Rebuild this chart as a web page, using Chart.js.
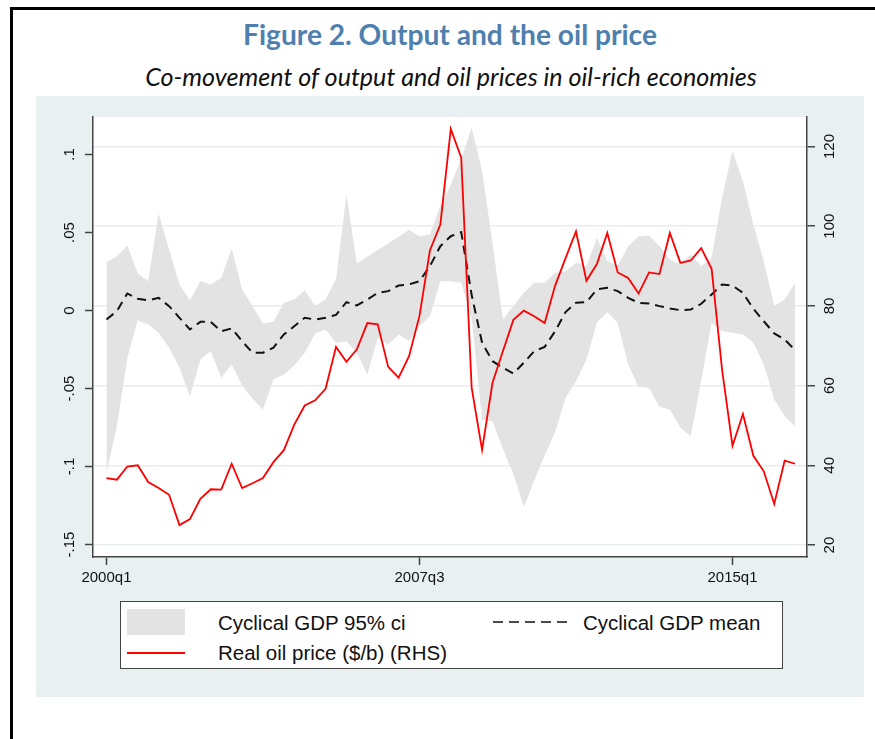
<!DOCTYPE html>
<html>
<head>
<meta charset="utf-8">
<script src="https://cdn.jsdelivr.net/npm/chart.js@4.4.0/dist/chart.umd.min.js"></script>
<style>
  body { margin: 0; width: 875px; height: 739px; background: #fff; position: relative; overflow: hidden; font-family: "Liberation Sans", Arial, sans-serif; }
  .frame-top { position: absolute; left: 10px; top: 7px; right: 0; height: 3px; background: #000; }
  .frame-left { position: absolute; left: 10px; top: 7px; width: 3px; bottom: 0; background: #000; }
  .title { position: absolute; left: 450px; top: 34px; transform: translate(-50%, -50%); white-space: nowrap;
    font-family: Lato, "Open Sans", sans-serif; font-weight: bold; color: #4f7fae; }
  .subtitle { position: absolute; left: 451px; top: 76px; transform: translate(-50%, -50%); white-space: nowrap;
    font-family: Lato, "Open Sans", sans-serif; font-style: italic; color: #111; }
  .panel { position: absolute; left: 36px; top: 96px; width: 828px; height: 601px; background: #e8f0f2; }
  .legend { position: absolute; left: 120px; top: 601px; width: 661px; height: 66px; background: #fff; border: 1px solid #444; }
  .legend .txt { position: absolute; font-size: 20.5px; color: #111; transform: translateY(-50%); white-space: nowrap; }
  .sw-band { position: absolute; left: 6px; top: 7px; width: 58px; height: 26px; background: #e3e3e3; }
  .sw-red { position: absolute; left: 6px; top: 50px; width: 58px; height: 2px; background: #ff0000; }
  .sw-dash { position: absolute; left: 372px; top: 15px; }
</style>
</head>
<body>
<div class="frame-top"></div>
<div class="frame-left"></div>
<div class="title" id="title">Figure 2. Output and the oil price</div>
<div class="subtitle" id="subtitle">Co-movement of output and oil prices in oil-rich economies</div>
<div class="panel">
  <canvas id="oilChart" width="828" height="601"></canvas>
</div>
<div class="legend">
  <div class="sw-band"></div>
  <div class="txt" style="left:97px; top:21px;">Cyclical GDP 95% ci</div>
  <svg class="sw-dash" width="80" height="10"><line x1="0" y1="5" x2="78" y2="5" stroke="#111" stroke-width="1.6" stroke-dasharray="10,6"/></svg>
  <div class="txt" style="left:462px; top:21px;">Cyclical GDP mean</div>
  <div class="sw-red"></div>
  <div class="txt" style="left:97px; top:51px;">Real oil price ($/b) (RHS)</div>
</div>
<script>
'use strict';

// Quarterly data, 2000q1 .. 2016q3 (index 0 .. 66)
const xTickIndex = [0, 30, 60];
const xTickLabels = ['2000q1', '2007q3', '2015q1'];

const gdpTicks = [-0.15, -0.1, -0.05, 0, 0.05, 0.1];
const gdpTickLabels = ['-.15', '-.1', '-.05', '0', '.05', '.1'];
const oilTicks = [20, 40, 60, 80, 100, 120];

const gdpUpper = [
  0.031, 0.0348, 0.0417, 0.0237, 0.0188, 0.0622, 0.0391, 0.0167, 0.0066, 0.0188,
  0.0167, 0.021, 0.0395, 0.0135, 0.0028, -0.0083, -0.0072, 0.0049, 0.007, 0.013,
  0.0028, 0.007, 0.02, 0.0744, 0.0301, 0.0344, 0.0387, 0.0429, 0.0472, 0.0515,
  0.0476, 0.0487, 0.0669, 0.0808, 0.0968, 0.1171, 0.0893, 0.0434, -0.0058, 0.0028,
  0.0113, 0.0178, 0.0178, 0.0242, 0.0252, 0.0306, 0.0284, 0.0466, 0.0316, 0.0288,
  0.0412, 0.0476, 0.0481, 0.0412, 0.0327, 0.0295, 0.0359, 0.0284, 0.0338, 0.0722,
  0.1021, 0.0829, 0.0551, 0.0316, 0.0028, 0.007, 0.0178
];

const gdpLower = [
  -0.104, -0.0742, -0.0303, -0.0062, -0.009, -0.0143, -0.0239, -0.0367, -0.0553, -0.0314,
  -0.0261, -0.0431, -0.0346, -0.0481, -0.0566, -0.0635, -0.0442, -0.041, -0.0353, -0.0271,
  -0.0147, -0.0122, -0.0207, -0.0197, -0.0271, -0.041, -0.0175, -0.0218, -0.0154, -0.0197,
  -0.0101, -0.0037, 0.0188, 0.0188, 0.0178, -0.005, -0.07, -0.071, -0.089, -0.105,
  -0.126, -0.109, -0.093, -0.078, -0.056, -0.0453, -0.0314, -0.0079, -0.0011, -0.0079,
  -0.0346, -0.0489, -0.0496, -0.0617, -0.0635, -0.0752, -0.0806, -0.045, -0.0079, -0.0133,
  -0.0143, -0.0154, -0.0207, -0.0346, -0.057, -0.0678, -0.0742
];

const gdpMean = [
  -0.0058, -0.0004, 0.0109, 0.0075, 0.0065, 0.0081, 0.0028, -0.0047, -0.0122, -0.0073,
  -0.0073, -0.0133, -0.0115, -0.0197, -0.0271, -0.0271, -0.0239, -0.0154, -0.0101, -0.0047,
  -0.0058, -0.0047, -0.0028, 0.0053, 0.0032, 0.007, 0.0113, 0.0124, 0.016, 0.0167,
  0.0188, 0.0284, 0.0412, 0.0476, 0.0502, 0.01, -0.0207, -0.0325, -0.0367, -0.0404,
  -0.0335, -0.0261, -0.0233, -0.0133, -0.001, 0.0049, 0.0053, 0.0135, 0.0145, 0.0124,
  0.0081, 0.0049, 0.0045, 0.0028, 0.0013, 0.0002, 0.0006, 0.0043, 0.0103, 0.0167,
  0.016, 0.0113, 0.0011, -0.0069, -0.0147, -0.0186, -0.0254
];

const oilPrice = [
  36.8, 36.4, 39.7, 40.0, 35.8, 34.3, 32.6, 25.0, 26.5, 31.6,
  34.0, 33.9, 40.4, 34.3, 35.5, 36.8, 40.8, 43.8, 50.2, 55.0,
  56.3, 59.2, 69.7, 66.0, 69.1, 75.7, 75.4, 64.7, 62.0, 67.4,
  77.5, 93.9, 100.4, 124.4, 117.2, 59.5, 43.9, 60.7, 68.7, 76.5,
  78.8, 77.4, 75.7, 85.1, 92.0, 98.7, 86.3, 90.5, 98.3, 88.4,
  87.0, 83.1, 88.4, 88.0, 98.3, 90.8, 91.4, 94.5, 89.3, 64.0,
  44.9, 52.9, 42.4, 38.5, 30.3, 41.2, 40.4
];

// fit the heading texts to the widths in the figure
function fitWidth(id, target) {
  const el = document.getElementById(id);
  el.style.fontSize = '20px';
  const w = el.getBoundingClientRect().width;
  el.style.fontSize = (20 * target / w).toFixed(2) + 'px';
}
fitWidth('title', 414);
fitWidth('subtitle', 612);

const toPoints = (arr) => arr.map((v, i) => ({ x: i, y: v }));

const axisColor = '#444',
  gridColor = '#e6eef1',
  tickFont = { family: '"Liberation Sans", Arial, sans-serif', size: 15 };

// white plot region
const plotBackground = {
  id: 'plotBackground',
  beforeDraw(chart) {
    const { ctx, chartArea } = chart;
    ctx.save();
    ctx.fillStyle = '#ffffff';
    ctx.fillRect(chartArea.left, chartArea.top, chartArea.right - chartArea.left, chartArea.bottom - chartArea.top);
    ctx.restore();
  }
};

new Chart(document.getElementById('oilChart'), {
  type: 'line',
  data: {
    datasets: [
      {
        label: 'Real oil price ($/b) (RHS)',
        data: toPoints(oilPrice),
        yAxisID: 'y2',
        borderColor: '#ff0000',
        borderWidth: 1.8,
        pointRadius: 0,
        tension: 0
      },
      {
        label: 'Cyclical GDP mean',
        data: toPoints(gdpMean),
        yAxisID: 'y',
        borderColor: '#111',
        borderWidth: 2,
        borderDash: [9, 6],
        pointRadius: 0,
        tension: 0
      },
      {
        label: 'Cyclical GDP 95% ci',
        data: toPoints(gdpUpper),
        yAxisID: 'y',
        borderWidth: 0,
        borderColor: 'rgba(0,0,0,0)',
        backgroundColor: '#e3e3e3',
        fill: '+1',
        pointRadius: 0
      },
      {
        label: 'lower',
        data: toPoints(gdpLower),
        yAxisID: 'y',
        borderWidth: 0,
        borderColor: 'rgba(0,0,0,0)',
        pointRadius: 0,
        fill: false
      }
    ]
  },
  options: {
    responsive: false,
    animation: false,
    layout: { padding: { top: 21, left: 0, right: 0, bottom: 0 } },
    plugins: {
      legend: { display: false },
      tooltip: { enabled: false }
    },
    scales: {
      x: {
        type: 'linear',
        min: -1.29,
        max: 67.14,
        afterBuildTicks: (scale) => {
          scale.ticks = xTickIndex.map((v) => ({ value: v }));
        },
        afterFit: (scale) => {
          scale.height = 140;
        },
        grid: { drawOnChartArea: false, drawTicks: true, tickLength: 8, tickColor: axisColor, tickWidth: 1.5 },
        border: { display: true, color: axisColor, width: 1.5 },
        ticks: {
          color: '#111',
          font: tickFont,
          padding: 4,
          maxRotation: 0,
          callback: (v) => xTickLabels[xTickIndex.indexOf(v)]
        }
      },
      y: {
        type: 'linear',
        position: 'left',
        min: -0.158,
        max: 0.124,
        afterBuildTicks: (scale) => {
          scale.ticks = gdpTicks.map((v) => ({ value: v }));
        },
        afterFit: (scale) => {
          scale.width = 57;
        },
        grid: { drawOnChartArea: false, drawTicks: true, tickLength: 8, tickColor: axisColor, tickWidth: 1.5 },
        border: { display: true, color: axisColor, width: 1.5 },
        ticks: {
          color: '#111',
          font: tickFont,
          minRotation: 90,
          maxRotation: 90,
          crossAlign: 'center',
          padding: 2,
          callback: (v) => gdpTickLabels[gdpTicks.indexOf(v)]
        }
      },
      y2: {
        type: 'linear',
        position: 'right',
        min: 17.0,
        max: 127.4,
        afterBuildTicks: (scale) => {
          scale.ticks = oilTicks.map((v) => ({ value: v }));
        },
        afterFit: (scale) => {
          scale.width = 57;
        },
        grid: { drawOnChartArea: true, color: gridColor, lineWidth: 1.5, drawTicks: true, tickLength: 8, tickColor: axisColor, tickWidth: 1.5 },
        border: { display: true, color: axisColor, width: 1.5 },
        ticks: {
          color: '#111',
          font: tickFont,
          minRotation: 90,
          maxRotation: 90,
          crossAlign: 'center',
          padding: 2
        }
      }
    }
  },
  plugins: [plotBackground]
});
</script>
</body>
</html>
